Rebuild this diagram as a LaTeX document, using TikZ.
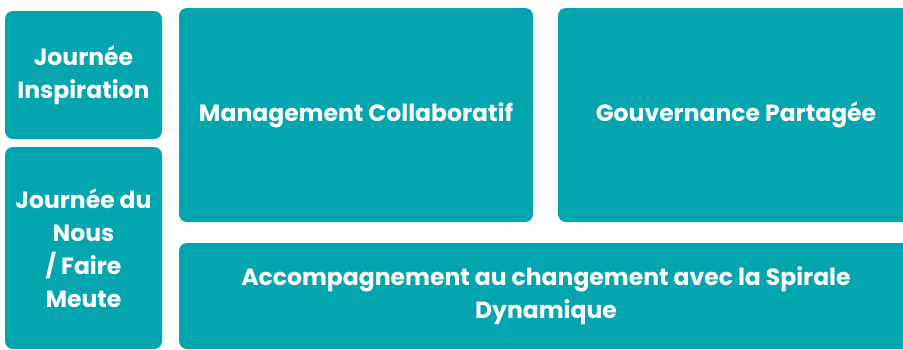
\documentclass[tikz,border=0pt]{standalone}
\usepackage{fontspec}
\setmainfont{Poppins}
\definecolor{tilecol}{RGB}{3,165,174}
\begin{document}
\begin{tikzpicture}[x=1pt,y=-1pt,
  tile/.style={fill=tilecol, rounded corners=8pt, inner sep=0pt, text=white,
    align=center, font=\bfseries\fontsize{23.5}{33}\selectfont}]
\useasboundingbox (0,0) rectangle (903,349);
\clip (0,0) rectangle (903,349);
\node[tile, minimum width=157pt, minimum height=128pt] (insp) at (83.5,75) {Journée\\Inspiration};
\node[tile, minimum width=157pt, minimum height=202pt] (nous) at (83.5,248) {Journée du\\Nous\\/ Faire\\Meute};
\node[tile, minimum width=354pt, minimum height=214pt] (mgmt) at (356,115) {Management Collaboratif};
\node[tile, minimum width=356pt, minimum height=214pt] (gouv) at (736,115) {Gouvernance Partagée};
\node[tile, minimum width=734pt, minimum height=106pt] (acc) at (546,296) {Accompagnement au changement avec la Spirale\\Dynamique};
\end{tikzpicture}
\end{document}
